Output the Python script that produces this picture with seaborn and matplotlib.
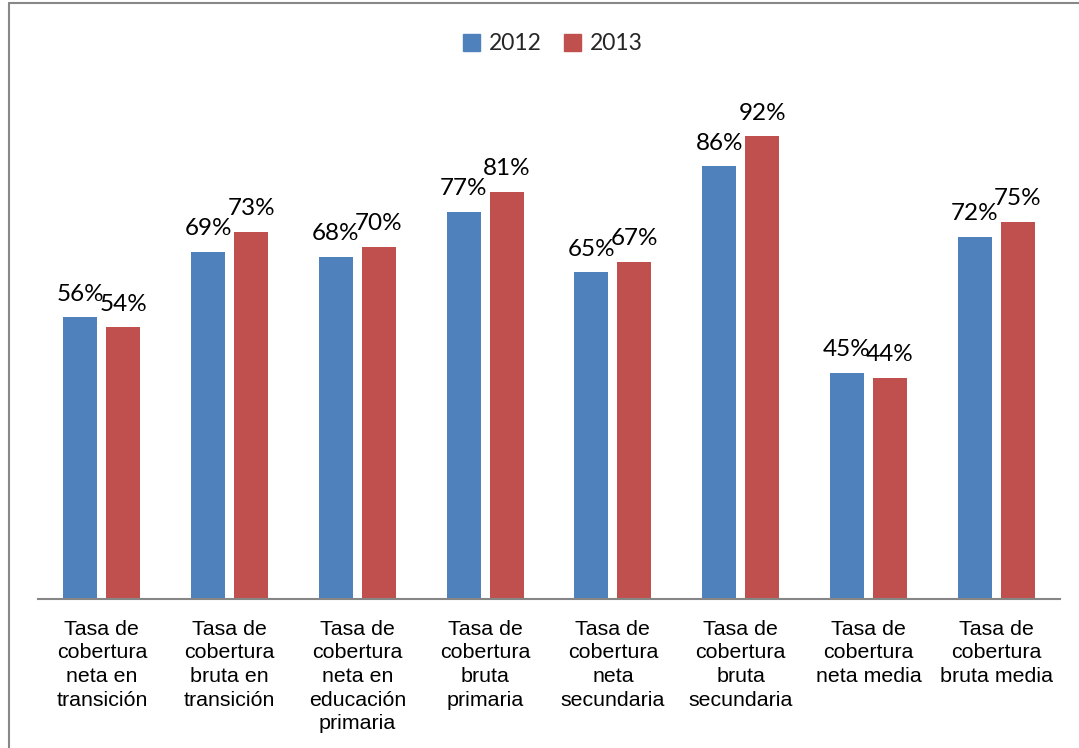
import pandas as pd
import matplotlib
matplotlib.use("Agg")
import matplotlib.pyplot as plt
from matplotlib.lines import Line2D
import seaborn as sns

categories = [
    "Tasa de\ncobertura\nneta en\ntransición",
    "Tasa de\ncobertura\nbruta en\ntransición",
    "Tasa de\ncobertura\nneta en\neducación\nprimaria",
    "Tasa de\ncobertura\nbruta\nprimaria",
    "Tasa de\ncobertura\nneta\nsecundaria",
    "Tasa de\ncobertura\nbruta\nsecundaria",
    "Tasa de\ncobertura\nneta media",
    "Tasa de\ncobertura\nbruta media",
]
years = ["2012", "2013"]
values_2012 = [56, 69, 68, 77, 65, 86, 45, 72]
values_2013 = [54, 73, 70, 81, 67, 92, 44, 75]

df = pd.DataFrame({
    "categoria": categories * 2,
    "anio": [years[0]] * len(categories) + [years[1]] * len(categories),
    "valor": values_2012 + values_2013,
})

sns.set_theme(style="white")
plt.rcParams["font.family"] = ["Liberation Sans", "DejaVu Sans"]

palette = {"2012": "#4F81BD", "2013": "#C0504D"}

fig = plt.figure(figsize=(10.79, 7.48), dpi=100)
ax = fig.add_axes([38 / 1079, 149 / 748, (1060 - 38) / 1079, (599 - 96) / 748])

sns.barplot(data=df, x="categoria", y="valor", hue="anio", palette=palette,
            width=0.672, gap=0.208, saturation=1, linewidth=0, ax=ax, legend=False)

for cont in ax.containers:
    ax.bar_label(cont, labels=[f"{v:.0f}%" for v in cont.datavalues],
                 padding=9, fontsize=17.5, family=["Lato", "DejaVu Sans"], color="black")

ax.set_ylim(0, 100)
ax.set_xlim(-0.5, len(categories) - 0.5)
ax.set_xlabel("")
ax.set_ylabel("")
ax.set_yticks([])
ax.tick_params(axis="x", length=0, pad=15, labelsize=15.4, colors="black")
for lab in ax.get_xticklabels():
    lab.set_linespacing(1.31)
for s in ["top", "right", "left"]:
    ax.spines[s].set_visible(False)
ax.spines["bottom"].set_color("#868686")
ax.spines["bottom"].set_linewidth(1.5)

handles = [plt.Rectangle((0, 0), 1, 1, color=palette[y]) for y in years]
fig.legend(handles, years, loc="center", bbox_to_anchor=(553 / 1079, 1 - 44 / 748),
           ncol=2, frameon=False, handlelength=0.7, handleheight=0.7,
           handletextpad=0.4, columnspacing=1.0,
           prop={"family": ["Lato", "DejaVu Sans"], "size": 16.5})

# outer chart frame (cropped on right and bottom)
fig.add_artist(Line2D([9 / 1079, 9 / 1079], [0, 1 - 3 / 748], color="#888888", lw=1.5))
fig.add_artist(Line2D([9 / 1079, 1], [1 - 3 / 748, 1 - 3 / 748], color="#888888", lw=1.5))

fig.savefig("out.png", dpi=100)
